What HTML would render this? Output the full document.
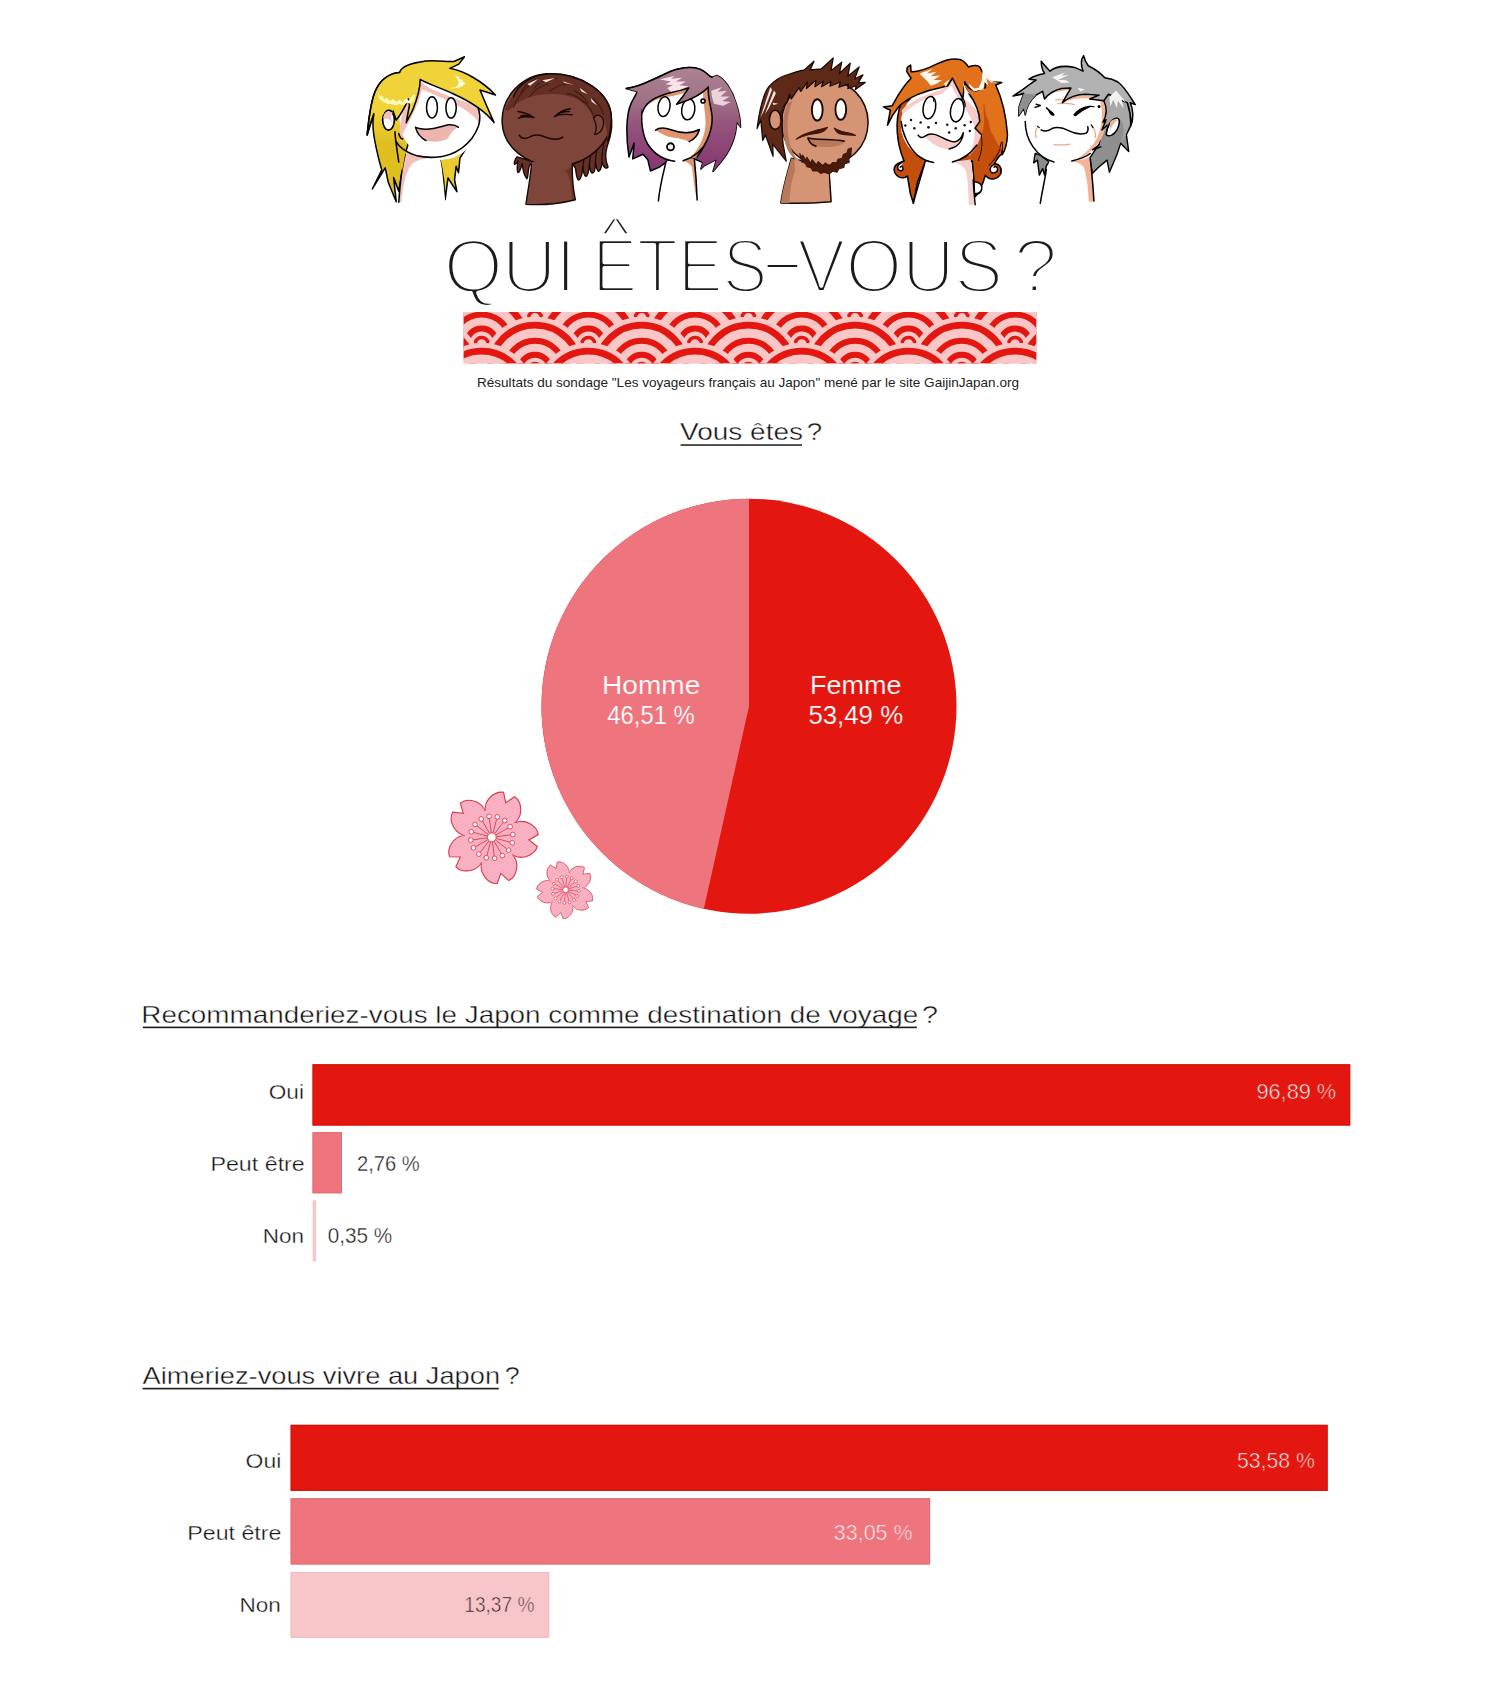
<!DOCTYPE html>
<html lang="fr">
<head>
<meta charset="utf-8">
<title>Qui êtes-vous ?</title>
<style>
html,body{margin:0;padding:0;background:#fff;}
body{width:1500px;overflow:hidden;}
svg{display:block;}
svg text{font-family:'Liberation Sans', Arial, sans-serif;}
</style>
</head>
<body>
<svg width="1500" height="1701" viewBox="0 0 1500 1701">
<rect width="1500" height="1701" fill="#fff"/>
<!-- faces -->
<g transform="translate(360 50) scale(0.09409)" stroke-linejoin="round" stroke-linecap="round">
<defs><linearGradient id="f1g" gradientUnits="userSpaceOnUse" x1="0" y1="640" x2="0" y2="1000"><stop offset="0" stop-color="#F0D338"/><stop offset="1" stop-color="#E0BE20"/></linearGradient></defs>
<!-- back hair right -->
<path d="M840 1120 L870 1260 L890 1400 L905 1590 L935 1360 L1030 1505 L1005 1380 L1022 1235 L1047 1305 L1062 1150 L1135 1035 Z" fill="#EBCB2E" stroke="#000" stroke-width="16.2"/>
<!-- back hair left -->
<path d="M420 240 C330 245 230 300 170 420 C120 520 95 700 76 903 L110 790 L148 679 C120 800 150 960 206 1185 L232 1275 L131 1477 L268 1253 L300 1405 L385 1612 L357 1356 L412 1500 L447 1288 L481 1102 L600 700 Z" fill="url(#f1g)" stroke="#000" stroke-width="16.2"/>
<!-- neck -->
<path d="M481 1102 C445 1250 425 1420 412 1618 L905 1600 L870 1260 L845 1120 Z" fill="#fff"/>
<path d="M481 1102 C445 1250 425 1420 412 1618 L440 1618 C455 1440 490 1290 550 1215 C610 1160 700 1150 770 1142 L600 1110 Z" fill="#F2C1BC"/>
<path d="M481 1102 C445 1250 425 1420 412 1618" fill="none" stroke="#000" stroke-width="16.2"/>
<!-- hair behind jaw -->
<path d="M378 960 L412 1191 L447 1288 L481 1102 L520 1100 L420 1000 Z" fill="#E0BE20"/>
<!-- head -->
<circle cx="848" cy="742" r="428" fill="#fff"/>
<path d="M640 320 C700 420 900 470 1250 600 C1275 660 1285 720 1275 790 C1200 640 900 520 660 420 C640 520 560 700 470 860 C450 900 440 940 450 990 C400 900 420 700 520 500 Z" fill="#F2C1BC"/>
<path d="M412 889 C425 930 440 950 454 944 M378 965 C420 1040 480 1085 605 1125 C660 1138 740 1143 800 1140 C1000 1130 1190 1010 1262 800 C1280 730 1275 660 1250 600" fill="none" stroke="#000" stroke-width="16.2"/>
<!-- ear -->
<ellipse cx="303" cy="745" rx="62" ry="106" fill="#fff" stroke="#000" stroke-width="17.6"/>
<path d="M248 720 C255 655 300 640 350 668 C320 690 330 760 360 800 C330 760 300 700 270 740 Z" fill="#F2C1BC"/>
<!-- strand below ear -->
<path d="M371 868 C380 1000 400 1100 412 1191" fill="none" stroke="#000" stroke-width="16.2"/>
<!-- eyes -->
<ellipse cx="765" cy="610" rx="58" ry="112" fill="#fff" stroke="#000" stroke-width="16.2"/>
<ellipse cx="968" cy="615" rx="55" ry="108" fill="#fff" stroke="#000" stroke-width="16.2"/>
<!-- mouth -->
<path d="M590 822 C700 870 830 820 940 795 C980 790 1020 800 1045 820 C1000 840 960 880 935 940 C860 980 760 985 700 960 C650 930 610 880 590 822 Z" fill="#EDB5AF"/>
<path d="M590 822 C700 870 830 820 940 795 C980 790 1020 800 1045 820 M590 822 C605 880 650 935 700 962" fill="none" stroke="#000" stroke-width="16.2"/>
<!-- top hair / bangs fill -->
<path d="M420 240 C440 170 540 140 700 118 C820 102 950 135 1005 120 L1110 72 L1050 150 L955 195 C1110 225 1300 330 1440 478 L1275 425 L1340 580 L1425 772 C1340 660 1200 560 1000 470 C850 400 720 360 640 312 C640 430 600 540 560 640 L491 772 L525 590 L515 520 C480 600 440 680 385 745 L352 650 C320 615 265 625 245 690 L150 690 C140 500 200 340 290 270 C330 250 380 245 420 240 Z" fill="#F0D338"/>
<path d="M420 240 C440 170 540 140 700 118 C820 102 950 135 1005 120 L1110 72 L1050 150 L955 195 C1110 225 1300 330 1440 478 L1275 425 L1340 580 L1425 772 C1340 660 1200 560 1000 470 C850 400 720 360 640 312 C640 430 600 540 560 640 L491 772 L525 590 L515 520 C480 600 440 680 385 745 L352 650" fill="none" stroke="#000" stroke-width="16.2"/>
<path d="M420 240 C330 245 230 300 170 420 C120 520 95 700 76 903 L110 790 L148 679" fill="none" stroke="#000" stroke-width="16.2"/>
<!-- highlights -->
<path d="M1010 275 L1060 290 L1045 305 L1100 320 L1085 340 L1120 350 L1090 385 L1040 400 L950 415 L1000 395 L1010 405 L1035 380 L1050 350 L1040 320 Z" fill="#FFFDE0"/>
<path d="M185 430 L215 500 L230 480 L260 530 L280 505 L320 545 L345 520 L390 550 L420 525 L450 555 L490 510 L520 540 L560 480 L590 470 L575 540 L540 570 L500 560 L470 585 L420 575 L380 590 L330 575 L290 570 L240 545 L205 520 Z" fill="#FFF9B8"/>
</g>
<g transform="translate(490 70) scale(0.09333)" stroke-linejoin="round" stroke-linecap="round">
<!-- back dreads left -->
<path d="M290 930 C265 960 255 1000 262 1010 C275 1015 290 990 300 975 C290 1030 290 1080 300 1100 C320 1100 335 1040 345 1000 C350 1060 370 1130 395 1165 C410 1150 405 1080 420 1030 L460 980 Z" fill="#643025" stroke="#1a0806" stroke-width="14.9"/>
<!-- dreads right -->
<path d="M1120 620 C1200 640 1290 560 1290 460 C1320 560 1300 700 1255 820 C1230 900 1240 980 1265 1040 C1240 1070 1215 1040 1200 990 C1195 1040 1185 1080 1165 1085 C1140 1075 1140 1030 1130 990 C1130 1060 1120 1100 1095 1105 C1070 1095 1070 1050 1065 1010 C1060 1080 1050 1130 1030 1140 C1005 1135 1000 1080 995 1040 C990 1110 975 1170 950 1180 C925 1170 925 1100 915 1050 L880 1000 Z" fill="#643025" stroke="#1a0806" stroke-width="14.9"/>
<path d="M1200 990 C1195 900 1215 800 1235 720 M1130 990 C1130 900 1150 800 1180 700 M1065 1010 C1070 930 1090 850 1120 780 M995 1040 C1000 980 1010 930 1030 880" fill="none" stroke="#1a0806" stroke-width="12.2"/>
<!-- head -->
<path d="M130 560 C120 300 330 45 640 40 C960 35 1300 230 1300 520 C1300 800 1020 1030 700 1030 C400 1030 140 830 130 560 Z" fill="#7E463A"/>
<path d="M130 560 C120 300 330 45 640 40 C960 35 1300 230 1300 520 C1300 800 1020 1030 700 1030 C400 1030 140 830 130 560 Z" fill="none" stroke="#1a0806" stroke-width="16.2"/>
<!-- neck -->
<path d="M447 985 C432 1180 400 1320 385 1440 C560 1450 760 1430 915 1390 C890 1280 880 1160 880 985 Z" fill="#7E463A"/>
<path d="M790 1080 C850 1100 870 1200 880 1400 L915 1390 C890 1280 880 1160 885 1020 C860 1050 830 1070 790 1080 Z" fill="#6A3427"/>
<path d="M444 1015 C430 1180 400 1320 385 1440 C560 1450 760 1430 915 1390 C890 1280 880 1160 880 1010" fill="none" stroke="#1a0806" stroke-width="14.9"/>
<!-- hair cap -->
<path d="M160 430 C180 360 230 290 250 290 C300 150 450 50 640 40 C960 35 1300 230 1300 520 C1300 600 1290 680 1260 760 C1250 650 1240 560 1200 480 C1160 480 1120 500 1110 520 C1080 430 1010 350 930 310 C800 250 600 240 460 280 C340 315 250 370 200 440 C185 430 170 428 160 430 Z" fill="#643025"/>
<path d="M250 290 C300 150 450 50 640 40 C960 35 1300 230 1300 520 C1300 600 1290 680 1260 760" fill="none" stroke="#1a0806" stroke-width="16.2"/>
<path d="M330 250 C360 170 440 110 520 90 M250 400 C290 300 350 220 420 170 M470 200 C520 130 620 90 720 85 M420 290 C470 220 540 170 620 150 M640 230 C700 180 760 150 840 150 M900 220 C960 250 1020 300 1050 360 M820 250 C900 260 960 300 1010 350 M1000 330 C1060 380 1090 430 1110 500 M1100 300 C1160 350 1200 420 1215 480" fill="none" stroke="#3E1A12" stroke-width="11"/>
<!-- highlights -->
<path d="M400 150 L520 95 L430 170 Z M560 110 L700 85 L600 130 Z M780 120 L900 160 L800 140 Z M960 190 L1050 260 L980 230 Z M1080 300 L1150 380 L1090 340 Z" fill="#F4E3DC"/>
<!-- ear -->
<path d="M1110 520 C1130 470 1200 470 1215 540 C1225 620 1180 690 1120 690 C1150 640 1140 570 1110 520 Z" fill="#7E463A" stroke="#1a0806" stroke-width="13.5"/>
<!-- eyes -->
<path d="M300 445 C360 455 420 475 470 510 C410 495 350 500 305 515 M330 490 C380 485 430 490 470 510" fill="none" stroke="#1a0806" stroke-width="14.9"/>
<path d="M860 415 C800 425 740 450 690 500 C740 470 800 470 880 480 M690 500 C730 460 800 440 850 445" fill="none" stroke="#1a0806" stroke-width="14.9"/>
<!-- mouth -->
<path d="M315 700 C340 740 380 740 420 720 C470 690 520 690 570 710 C640 740 720 760 780 720" fill="none" stroke="#1a0806" stroke-width="16.2"/>
</g>
<g transform="translate(615 60) scale(0.09333)" stroke-linejoin="round" stroke-linecap="round">
<defs><linearGradient id="f3h" gradientUnits="userSpaceOnUse" x1="0" y1="90" x2="0" y2="1150"><stop offset="0" stop-color="#AB8292"/><stop offset="0.3" stop-color="#A17387"/><stop offset="0.6" stop-color="#93527C"/><stop offset="1" stop-color="#873871"/></linearGradient></defs>
<!-- back hair -->
<path d="M120 305 C250 290 400 215 600 120 C700 85 820 70 900 95 C950 110 990 150 1010 170 L1040 185 L1090 165 C1180 200 1260 330 1300 470 C1330 560 1345 650 1345 720 L1305 660 C1300 800 1250 960 1130 1100 L1050 1195 L1088 1065 L960 1130 L920 1168 L940 1100 L850 1060 L560 1090 L470 1150 L380 1190 L352 1070 L300 1010 L190 1060 L205 890 L150 1040 C120 850 110 600 175 460 L240 340 Z" fill="url(#f3h)" stroke="#000" stroke-width="16.2"/>
<!-- neck -->
<path d="M548 1085 C520 1200 480 1350 465 1510 L880 1500 C875 1350 865 1200 850 1060 Z" fill="#fff"/>
<path d="M735 1080 L850 1055 C865 1200 875 1350 880 1500 C850 1400 840 1250 825 1150 C800 1110 770 1090 735 1080 Z" fill="#E1956F"/>
<path d="M548 1085 C520 1200 480 1350 465 1510 M850 1060 C865 1200 875 1350 880 1500" fill="none" stroke="#000" stroke-width="16.2"/>
<!-- face -->
<path d="M300 480 C270 620 290 800 350 900 C420 1010 520 1070 640 1085 L730 1080 C830 1050 930 980 1000 850 C1050 750 1060 620 1030 500 L1000 290 L700 300 Z" fill="#fff"/>
<!-- tan shadow right of face -->
<path d="M1000 290 C990 400 1030 500 1040 600 C1050 750 980 900 880 1040 L760 1075 C880 1000 975 830 970 650 C965 520 930 400 950 300 Z" fill="#E1956F"/>
<!-- shadow under bangs -->
<path d="M310 520 C380 440 480 400 620 385 L760 350 L690 470 L900 380 L1000 290 L700 300 L350 420 Z" fill="#E1956F"/>
<!-- chin outline -->
<path d="M300 500 C270 620 290 800 350 900 C420 1010 520 1070 640 1085 M730 1080 C830 1050 930 980 1000 850" fill="none" stroke="#000" stroke-width="16.2"/>
<!-- eyes -->
<ellipse cx="525" cy="500" rx="64" ry="106" transform="rotate(8 525 500)" fill="#fff" stroke="#000" stroke-width="16.2"/>
<ellipse cx="785" cy="530" rx="70" ry="112" transform="rotate(8 785 530)" fill="#fff" stroke="#000" stroke-width="16.2"/>
<!-- mouth -->
<path d="M435 752 C470 725 520 720 600 748 C700 785 800 800 905 745 C890 800 850 850 795 875 C700 830 600 840 540 810 C500 790 470 770 435 752 Z" fill="#E1956F"/>
<path d="M435 752 C470 725 520 720 600 748 C700 785 800 800 905 745 C890 800 850 850 795 875" fill="none" stroke="#000" stroke-width="16.2"/>
<!-- piercings -->
<circle cx="595" cy="930" r="38" fill="#eee" stroke="#000" stroke-width="18.9"/>
<circle cx="943" cy="440" r="22" fill="#ddd" stroke="#000" stroke-width="16.2"/>
<!-- right hair lock (front) -->
<path d="M1010 170 L1040 185 L1090 165 C1180 200 1260 330 1300 470 C1330 560 1345 650 1345 720 L1305 660 C1300 800 1250 960 1130 1100 L1050 1195 L1088 1065 L960 1130 L920 1168 L940 1100 L880 1040 C980 900 1050 750 1040 600 C1030 500 990 400 1000 290 Z" fill="url(#f3h)"/>
<path d="M880 1040 C980 900 1050 750 1040 600 C1030 500 990 400 1000 290" fill="none" stroke="#000" stroke-width="16.2"/>
<!-- bangs front -->
<path d="M120 305 C250 290 400 215 600 120 C700 85 820 70 900 95 C950 110 990 150 1010 170 L1000 290 C930 370 800 430 660 475 L720 400 L790 300 C650 340 480 360 380 440 C340 470 310 510 295 560 C290 500 250 430 240 340 Z" fill="url(#f3h)"/>
<path d="M1000 290 C930 370 800 430 660 475 L720 400 L790 300 C650 340 480 360 380 440 C340 470 310 510 295 560 M120 305 C250 290 400 215 600 120 C700 85 820 70 900 95 C950 110 990 150 1010 170 L1040 185" fill="none" stroke="#000" stroke-width="16.2"/>
<!-- highlights -->
<path d="M480 210 L640 170 L600 200 L720 190 L650 230 L760 230 L690 270 L790 280 L700 320 L600 340 L560 300 L620 270 L540 260 L600 230 Z" fill="#F6E4EA"/>
<path d="M1030 330 L1150 290 L1100 340 L1200 330 L1130 390 L1230 390 L1150 440 L1240 450 L1160 490 L1060 470 L1040 400 Z" fill="#F3DCE4" opacity="0.9"/>
</g>
<g transform="translate(750 50) scale(0.09409)" stroke-linejoin="round" stroke-linecap="round">
<!-- neck -->
<path d="M440 1150 C400 1300 350 1450 328 1625 C500 1632 700 1625 862 1612 C855 1500 850 1400 835 1250 Z" fill="#D59574" stroke="#1a0a05" stroke-width="16.2"/>
<path d="M440 1150 C400 1300 350 1450 328 1625 L420 1628 C425 1500 440 1380 480 1280 C500 1240 530 1210 560 1200 Z" fill="#B9785B"/>
<!-- head -->
<circle cx="795" cy="770" r="460" fill="#D59574" stroke="#1a0a05" stroke-width="16.2"/>
<!-- cover neck junction -->
<path d="M470 1110 C520 1190 600 1240 700 1260 L835 1285 L840 1400 L480 1300 Z" fill="#D59574"/>
<!-- face left shadow -->
<path d="M400 560 C340 700 330 900 400 1060 C430 1120 480 1170 520 1190 C440 1100 400 950 400 800 C400 700 420 620 450 540 Z" fill="#B9785B"/>
<!-- hair -->
<path d="M420 255 C330 280 250 330 200 390 C140 470 100 640 75 835 L115 745 L135 960 L165 905 L245 1130 L242 1000 L385 1182 L352 1000 C340 900 335 820 345 740 C330 700 320 660 345 640 C350 600 370 570 395 555 L420 470 L440 520 L520 400 L540 440 L610 340 L600 410 L700 320 L690 390 L780 330 L760 390 L860 335 L850 385 L960 340 L945 395 L1050 360 L1040 410 L1130 380 L1120 420 L1225 345 L1150 350 L1200 265 L1110 310 L1160 180 L1040 280 L1065 140 L950 250 L975 130 L860 220 L885 85 L760 200 L640 210 L680 120 L580 210 C520 220 470 235 420 255 Z" fill="#5F2917" stroke="#1a0a05" stroke-width="13.5"/>
<!-- hair highlights -->
<path d="M215 395 L110 720 L150 640 L235 420 Z M255 430 L160 680 L200 620 L275 460 Z M240 560 L300 570 L250 585 Z" fill="#F3E6E0"/>
<!-- ear -->
<ellipse cx="268" cy="742" rx="62" ry="102" fill="#D59574" stroke="#1a0a05" stroke-width="17.6"/>
<path d="M300 700 C330 740 330 800 300 830 C320 790 320 740 300 700 Z" fill="#B9785B"/>
<!-- eyes -->
<ellipse cx="715" cy="637" rx="57" ry="113" fill="#fff" stroke="#1a0a05" stroke-width="20.2"/>
<ellipse cx="965" cy="632" rx="57" ry="110" fill="#fff" stroke="#1a0a05" stroke-width="20.2"/>
<!-- mustache -->
<path d="M490 948 C540 905 600 880 680 860 C730 845 780 835 825 822 C800 860 760 880 720 885 C650 890 560 915 490 948 Z M895 830 C930 850 980 870 1040 880 C1070 885 1100 895 1122 908 C1060 905 1000 905 950 890 C920 875 905 855 895 830 Z" fill="#3E1609" stroke="#3E1609" stroke-width="10.8"/>
<!-- mouth -->
<path d="M630 945 C720 958 880 950 1000 968 C1000 1000 960 1020 880 1028 C800 1034 740 1030 700 1020 C660 1000 640 975 630 945 Z" fill="#B9785B"/>
<path d="M615 935 C720 958 880 945 1000 968 M615 935 C630 985 660 1010 700 1022" fill="none" stroke="#1a0a05" stroke-width="17.6"/>
<!-- beard -->
<path d="M528 1100 L560 1150 L560 1115 L595 1175 L605 1140 L645 1200 L660 1165 L705 1220 L725 1185 L775 1232 L800 1200 L850 1235 L875 1195 L920 1198 L935 1160 L980 1150 L992 1110 L1030 1095 L1042 1055 L1078 1040 L1072 1110 L1050 1150 L1055 1195 L1005 1210 L998 1250 L945 1262 L925 1300 L875 1290 L842 1318 L792 1300 L750 1312 L718 1285 L668 1285 L648 1252 L606 1242 L588 1205 L552 1190 Z" fill="#4A1B0B" stroke="#3E1609" stroke-width="10.8"/>
</g>
<g transform="translate(880 50) scale(0.09409)" stroke-linejoin="round" stroke-linecap="round">
<!-- back hair (dark) -->

<path d="M225 560 C150 760 180 1000 255 1180 C215 1195 150 1210 150 1270 C155 1340 230 1385 292 1340 L305 1420 L322 1525 L355 1628 L400 1400 L480 1190 L980 1180 L1000 1400 L1010 1560 C1050 1520 1075 1470 1082 1440 C1100 1400 1110 1360 1120 1330 C1160 1390 1250 1385 1285 1310 C1300 1250 1260 1200 1215 1215 C1240 1150 1290 1100 1300 1110 L1310 900 L1200 600 L700 400 Z" fill="#C44E0C" stroke="#000" stroke-width="16.2"/>
<!-- curls inner -->
<path d="M255 1180 C225 1200 185 1215 188 1250 C192 1290 240 1295 245 1260 C246 1240 225 1232 215 1245" fill="#fff" stroke="#000" stroke-width="14.9"/>
<path d="M1215 1215 C1180 1230 1160 1260 1175 1290 C1195 1320 1250 1305 1250 1265 C1248 1240 1225 1232 1212 1245" fill="#fff" stroke="#000" stroke-width="14.9"/>
<!-- neck -->
<path d="M480 1185 C450 1300 400 1450 355 1628 L1012 1645 C1000 1500 990 1350 962 1175 Z" fill="#fff"/>
<path d="M770 1190 C830 1185 900 1175 962 1165 C990 1350 1000 1500 1012 1645 L945 1645 C940 1500 935 1380 915 1290 C890 1230 830 1200 770 1190 Z" fill="#F6CDCB"/>
<path d="M480 1185 C450 1300 400 1450 355 1628" fill="none" stroke="#000" stroke-width="16.2"/>
<path d="M480 1185 L440 1400 L420 1500 L460 1300 Z" fill="#F6CDCB"/>
<path d="M990 1380 C995 1500 1005 1580 1012 1645 M1005 1400 C1060 1400 1090 1440 1082 1480 C1070 1520 1040 1535 1010 1530" fill="none" stroke="#000" stroke-width="14.9"/>
<path d="M1008 1410 C1055 1412 1080 1445 1072 1478 C1062 1508 1040 1520 1012 1518 Z" fill="#fff"/>
<!-- face -->
<ellipse cx="655" cy="790" rx="435" ry="410" fill="#fff"/>
<!-- face shadows -->
<path d="M230 640 C330 540 480 470 640 430 L770 310 L860 500 C940 540 1030 640 1080 700 C1100 800 1080 900 1040 1000 C1020 1050 980 1100 940 1130 C1000 1000 1020 900 1000 800 C960 700 900 600 830 520 L760 380 L650 470 C500 500 350 570 240 690 Z" fill="#F6CDCB"/>
<path d="M225 760 C235 880 300 1030 400 1120 C450 1160 510 1185 570 1195 M770 1190 C860 1170 960 1110 1030 1010" fill="none" stroke="#000" stroke-width="16.2"/>
<!-- eyes -->
<ellipse cx="525" cy="612" rx="66" ry="120" transform="rotate(10 525 612)" fill="#fff" stroke="#000" stroke-width="16.2"/>
<ellipse cx="820" cy="640" rx="70" ry="125" transform="rotate(10 820 640)" fill="#fff" stroke="#000" stroke-width="16.2"/>
<path d="M555 500 C570 510 575 530 570 545 M875 510 C895 530 905 560 905 600 M860 520 C880 540 885 560 885 580" fill="none" stroke="#000" stroke-width="12.2"/>
<!-- freckles -->
<g fill="#111"><circle cx="330" cy="745" r="13"/><circle cx="270" cy="802" r="13"/><circle cx="365" cy="832" r="13"/><circle cx="432" cy="770" r="13"/><circle cx="515" cy="822" r="14"/><circle cx="595" cy="775" r="13"/><circle cx="715" cy="795" r="13"/><circle cx="735" cy="877" r="13"/><circle cx="805" cy="832" r="13"/><circle cx="900" cy="800" r="13"/><circle cx="965" cy="765" r="13"/><circle cx="955" cy="860" r="13"/></g>
<!-- mouth -->
<path d="M470 915 C520 885 580 890 640 920 C700 950 760 985 800 975 C840 965 870 930 885 880 C880 960 830 1030 735 1052 C650 1060 560 1010 470 915 Z" fill="#F6CDCB"/>
<path d="M405 905 C420 935 450 935 480 915 C520 885 580 890 640 920 C700 950 760 985 800 975 C840 965 870 930 885 880 C880 960 830 1030 735 1052" fill="none" stroke="#000" stroke-width="16.2"/>
<!-- right front hair -->
<path d="M940 180 C1000 160 1040 160 1060 180 C1100 230 1150 310 1200 340 L1295 345 L1230 372 C1290 500 1340 700 1355 900 C1350 1000 1320 1080 1300 1110 L1295 980 C1270 1080 1220 1160 1160 1220 L1050 1170 C1080 1100 1100 1000 1080 900 L1010 830 L1060 760 C1060 680 1020 560 950 470 L870 350 Z" fill="#E2711B"/>
<path d="M1160 1220 C1220 1160 1270 1080 1295 980 L1300 1110 C1320 1080 1350 1000 1355 900 C1340 700 1290 500 1230 372 L1295 345 L1200 340 M1050 1170 C1080 1100 1100 1000 1080 900 L1010 830 L1060 760 C1060 680 1020 560 950 470 L870 350" fill="none" stroke="#000" stroke-width="16.2"/>
<path d="M1100 560 C1130 620 1110 680 1150 740 C1170 800 1160 860 1200 900 C1230 960 1250 1000 1300 1080 L1295 980 C1270 1080 1220 1160 1160 1220 L1050 1170 C1080 1100 1100 1000 1080 900 C1120 820 1100 700 1100 560 Z" fill="#C44E0C"/>
<!-- bangs / top hair -->
<path d="M35 605 L130 592 C180 500 230 400 330 300 L285 230 L290 185 L325 160 L330 230 C400 235 500 200 600 150 C680 110 780 85 850 100 C890 110 920 150 940 180 C1000 160 1040 160 1060 180 C1100 250 1130 330 1120 400 L1010 440 L940 400 L900 340 L880 520 L840 440 L770 300 L720 380 L640 400 C480 430 300 500 200 600 L130 700 L80 800 L110 640 Z" fill="#E2711B" stroke="#000" stroke-width="16.2"/>
<!-- highlights -->
<path d="M420 250 L560 200 L500 250 L600 230 L540 280 L640 270 L570 320 L660 320 L600 360 L540 380 L500 330 L470 300 Z" fill="#FFF6EE"/>
<path d="M1090 215 L1180 330 L1270 350 L1180 345 L1130 300 L1150 380 L1110 340 L1100 420 L1040 430 L1000 440 L960 400 L940 350 L1000 410 L1050 400 L1080 330 Z" fill="#FFF6EE"/>
<path d="M680 360 L740 310 L700 390 Z M880 340 L920 420 L960 470 L900 440 Z" fill="#FFF6EE"/>
</g>
<g transform="translate(1005 50) scale(0.09409)" stroke-linejoin="round" stroke-linecap="round">
<!-- back hair left tuft -->
<path d="M320 1100 L305 1200 L345 1170 L365 1330 L400 1260 L420 1330 L440 1230 L470 1190 L380 1120 Z" fill="#8A8A8A" stroke="#000" stroke-width="14.9"/>
<!-- back hair right -->
<path d="M1100 500 C1250 520 1350 700 1340 800 L1290 900 L1315 1080 L1230 990 L1190 1110 L1110 1300 L1085 1170 L1000 1240 L930 1310 L900 1150 L1000 1000 Z" fill="#8F8F8F" stroke="#000" stroke-width="14.9"/>
<!-- neck -->
<path d="M470 1185 C440 1300 400 1450 375 1630 L945 1610 C930 1450 915 1300 895 1150 Z" fill="#fff"/>
<path d="M710 1180 C780 1175 850 1160 905 1140 C925 1300 935 1450 945 1610 L890 1612 C885 1480 870 1350 840 1250 C810 1210 770 1190 710 1180 Z" fill="#F3B394"/>
<path d="M440 1270 C420 1400 395 1500 375 1630 M905 1150 C925 1300 935 1450 945 1605" fill="none" stroke="#000" stroke-width="16.2"/>
<!-- face -->
<path d="M215 760 C215 950 330 1140 520 1190 L710 1180 C860 1150 980 1050 1040 900 C1080 780 1090 650 1050 540 L800 400 L400 440 C280 520 215 640 215 760 Z" fill="#fff"/>
<!-- shadows -->
<path d="M400 450 C500 420 620 400 700 410 L620 540 C700 480 820 470 960 490 L1080 530 C1100 650 1090 800 1040 900 C990 1030 880 1130 710 1180 C850 1120 960 1010 1000 880 C1040 760 1040 640 1010 540 C900 500 760 500 600 560 L680 430 C580 430 480 450 420 520 Z" fill="#F3B394"/>
<path d="M215 760 C215 950 330 1140 520 1190 M710 1180 C800 1160 870 1130 905 1100" fill="none" stroke="#000" stroke-width="16.2"/>
<!-- wrinkles -->
<path d="M345 820 C325 850 320 890 330 930 M920 800 C950 830 965 880 960 930 M520 1005 C570 1012 630 1010 690 1000 M540 530 C580 525 620 528 650 535 M560 570 C620 565 700 570 740 580" fill="none" stroke="#F0A98A" stroke-width="13.5"/>
<!-- eyes -->
<path d="M330 575 L375 590 L320 610 M440 615 C470 640 490 660 500 680" fill="none" stroke="#000" stroke-width="14.9"/>
<path d="M465 640 C485 650 515 670 520 690 C500 700 480 680 465 640 Z" fill="#000" stroke="#000" stroke-width="13.5"/>
<path d="M735 690 C760 650 820 610 900 600 C840 625 790 660 750 695 Z" fill="#000" stroke="#000" stroke-width="16.2"/>
<path d="M900 600 C920 598 935 600 945 603" fill="none" stroke="#000" stroke-width="13.5"/>
<circle cx="1000" cy="600" r="16" fill="#000"/>
<!-- mouth -->
<path d="M385 850 C420 870 460 860 500 835 C560 810 620 830 680 860 C740 890 800 900 860 885 C885 870 885 840 880 815" fill="none" stroke="#000" stroke-width="16.2"/>
<path d="M345 810 C355 815 360 820 365 825 M915 795 C925 805 930 815 935 825" fill="none" stroke="#000" stroke-width="12.2"/>
<!-- ear -->
<path d="M1075 900 C1080 820 1130 730 1190 720 C1230 730 1215 800 1190 850 C1160 900 1110 930 1075 900 Z" fill="#fff" stroke="#000" stroke-width="16.2"/>
<path d="M1120 760 C1150 730 1185 730 1200 745 C1170 760 1140 800 1120 850 C1110 820 1110 790 1120 760 Z" fill="#F3B394"/>
<!-- sideburn lock -->
<path d="M1050 540 C1090 620 1080 700 1040 770 L1075 740 L1030 850 L1085 800 C1120 740 1150 720 1190 715 C1260 740 1290 850 1230 990 C1330 850 1350 700 1300 560 L1100 470 Z" fill="#A8A8A8"/>
<path d="M1050 540 C1090 620 1080 700 1040 770 L1075 740 L1030 850 L1085 800 M1000 1010 L930 1060 L1020 1030" fill="none" stroke="#000" stroke-width="14.9"/>
<!-- top hair -->
<path d="M85 490 C140 480 180 470 200 460 L150 600 L145 700 L200 620 L215 690 C230 600 280 520 330 480 L400 440 L420 520 C460 470 520 430 600 410 L700 405 L610 560 C680 500 760 470 860 470 L1000 480 L900 520 L1050 540 L1100 470 L1300 560 C1330 650 1340 750 1340 800 C1370 720 1360 620 1330 560 L1385 580 C1330 500 1280 400 1200 340 C1150 310 1100 300 1060 295 C1000 230 940 195 885 168 C862 135 845 100 835 60 C806 100 805 160 830 225 L740 185 C640 165 540 172 478 225 C450 195 415 160 385 120 C385 170 398 215 420 250 C360 260 300 280 255 310 L330 320 C250 370 180 430 85 490 Z" fill="#B1B1B1" stroke="#000" stroke-width="16.2"/>
<!-- hair dark shading -->
<path d="M200 460 L150 600 L145 700 L200 620 L215 690 C230 600 280 520 330 480 L300 470 Z" fill="#8F8F8F"/>
<!-- highlights -->
<path d="M500 290 L640 240 L600 275 L680 265 L560 320 L640 320 L690 345 L600 350 Z M770 400 L850 420 L800 440 Z" fill="#F4F4F4"/>
<path d="M1180 430 L1290 560 L1240 530 L1260 620 L1200 540 L1190 620 L1150 530 L1120 600 L1110 500 Z" fill="#F1F1F1"/>
</g>
<!-- band -->
<defs><clipPath id="bandclip"><rect x="463.7" y="312" width="572.5" height="51.3"/></clipPath><g id="wave"><circle r="53.3" fill="#F9C7C6"/><circle r="44.95" fill="none" stroke="#E3170F" stroke-width="6.7"/><circle r="29.3" fill="none" stroke="#E3170F" stroke-width="6"/><circle r="15.3" fill="none" stroke="#E3170F" stroke-width="6"/><circle r="6.45" fill="none" stroke="#E3170F" stroke-width="3.5"/></g></defs><g clip-path="url(#bandclip)"><rect x="463.7" y="312" width="572.5" height="51.3" fill="#F9C7C6"/><use href="#wave" x="481.65" y="239.5"/><use href="#wave" x="588.35" y="239.5"/><use href="#wave" x="695.05" y="239.5"/><use href="#wave" x="801.75" y="239.5"/><use href="#wave" x="908.45" y="239.5"/><use href="#wave" x="1015.15" y="239.5"/><use href="#wave" x="428.3" y="265.6"/><use href="#wave" x="535" y="265.6"/><use href="#wave" x="641.7" y="265.6"/><use href="#wave" x="748.4" y="265.6"/><use href="#wave" x="855.1" y="265.6"/><use href="#wave" x="961.8" y="265.6"/><use href="#wave" x="1068.5" y="265.6"/><use href="#wave" x="481.65" y="291.7"/><use href="#wave" x="588.35" y="291.7"/><use href="#wave" x="695.05" y="291.7"/><use href="#wave" x="801.75" y="291.7"/><use href="#wave" x="908.45" y="291.7"/><use href="#wave" x="1015.15" y="291.7"/><use href="#wave" x="428.3" y="317.8"/><use href="#wave" x="535" y="317.8"/><use href="#wave" x="641.7" y="317.8"/><use href="#wave" x="748.4" y="317.8"/><use href="#wave" x="855.1" y="317.8"/><use href="#wave" x="961.8" y="317.8"/><use href="#wave" x="1068.5" y="317.8"/><use href="#wave" x="481.65" y="343.9"/><use href="#wave" x="588.35" y="343.9"/><use href="#wave" x="695.05" y="343.9"/><use href="#wave" x="801.75" y="343.9"/><use href="#wave" x="908.45" y="343.9"/><use href="#wave" x="1015.15" y="343.9"/><use href="#wave" x="428.3" y="370"/><use href="#wave" x="535" y="370"/><use href="#wave" x="641.7" y="370"/><use href="#wave" x="748.4" y="370"/><use href="#wave" x="855.1" y="370"/><use href="#wave" x="961.8" y="370"/><use href="#wave" x="1068.5" y="370"/><use href="#wave" x="481.65" y="396.1"/><use href="#wave" x="588.35" y="396.1"/><use href="#wave" x="695.05" y="396.1"/><use href="#wave" x="801.75" y="396.1"/><use href="#wave" x="908.45" y="396.1"/><use href="#wave" x="1015.15" y="396.1"/></g>
<!-- pie -->
<circle cx="749" cy="706.2" r="207.5" fill="#E3170F"/><path d="M749 706.2L749 498.7A207.5 207.5 0 0 0 703.86 908.73Z" fill="#EE757E"/>
<!-- flowers -->
<defs><pattern id="stripe" width="3" height="3" patternUnits="userSpaceOnUse" patternTransform="rotate(-30)"><rect width="3" height="3" fill="#F9B6C6"/><rect width="3" height="1.3" fill="#F8A9BD"/></pattern></defs><g transform="translate(491.8 837.3)"><path d="M0 0L25.06 -15.03C32.95 -17.97 45.14 -12.23 46.43 -2.72L37.11 2.59L45.6 9.16C43 18.39 30.13 22.38 22.72 18.37Z" fill="url(#stripe)" stroke="#D9394A" stroke-width="1.12"/><path d="M0 0L22.04 19.19C27.28 25.79 25.58 39.15 16.93 43.32L9 36.1L5.38 46.2C-4.2 46.58 -11.98 35.57 -10.45 27.29Z" fill="url(#stripe)" stroke="#D9394A" stroke-width="1.12"/><path d="M0 0L-11.44 26.89C-16.1 33.91 -29.33 36.42 -35.96 29.49L-31.55 19.71L-42.27 19.4C-45.59 10.4 -37.53 -0.4 -29.18 -1.51Z" fill="url(#stripe)" stroke="#D9394A" stroke-width="1.12"/><path d="M0 0L-29.11 -2.57C-37.22 -4.83 -43.7 -16.64 -39.16 -25.09L-28.5 -23.91L-31.51 -34.21C-23.98 -40.15 -11.22 -35.82 -7.58 -28.22Z" fill="url(#stripe)" stroke="#D9394A" stroke-width="1.12"/><path d="M0 0L-6.55 -28.47C-6.91 -36.89 2.32 -46.71 11.76 -45L13.94 -34.49L22.8 -40.54C30.78 -35.21 30.6 -21.74 24.49 -15.93Z" fill="url(#stripe)" stroke="#D9394A" stroke-width="1.12"/><circle r="26.97" fill="url(#stripe)"/><path d="M0 0L23.55 -14.13C30.98 -16.89 42.43 -11.49 43.64 -2.56L34.88 2.44L42.86 8.61C40.42 17.29 28.32 21.04 21.36 17.27Z" fill="url(#stripe)"/><path d="M0 0L20.71 18.04C25.64 24.24 24.04 36.8 15.92 40.72L8.46 33.93L5.06 43.43C-3.95 43.78 -11.26 33.44 -9.82 25.65Z" fill="url(#stripe)"/><path d="M0 0L-10.75 25.27C-15.13 31.88 -27.57 34.24 -33.81 27.72L-29.65 18.53L-39.74 18.23C-42.86 9.77 -35.28 -0.37 -27.43 -1.42Z" fill="url(#stripe)"/><path d="M0 0L-27.36 -2.42C-34.99 -4.54 -41.08 -15.64 -36.81 -23.59L-26.79 -22.48L-29.62 -32.16C-22.54 -37.74 -10.55 -33.67 -7.13 -26.52Z" fill="url(#stripe)"/><path d="M0 0L-6.16 -26.77C-6.49 -34.68 2.18 -43.9 11.06 -42.3L13.1 -32.42L21.43 -38.11C28.93 -33.1 28.76 -20.44 23.02 -14.98Z" fill="url(#stripe)"/><line x1="0" y1="0" x2="20.44" y2="5.48" stroke="#E0404F" stroke-width="0.93"/><line x1="0" y1="0" x2="16.79" y2="12.88" stroke="#E0404F" stroke-width="0.93"/><line x1="0" y1="0" x2="10.58" y2="18.32" stroke="#E0404F" stroke-width="0.93"/><line x1="0" y1="0" x2="2.76" y2="20.98" stroke="#E0404F" stroke-width="0.93"/><line x1="0" y1="0" x2="-5.48" y2="20.44" stroke="#E0404F" stroke-width="0.93"/><line x1="0" y1="0" x2="-12.88" y2="16.79" stroke="#E0404F" stroke-width="0.93"/><line x1="0" y1="0" x2="-18.32" y2="10.58" stroke="#E0404F" stroke-width="0.93"/><line x1="0" y1="0" x2="-20.98" y2="2.76" stroke="#E0404F" stroke-width="0.93"/><line x1="0" y1="0" x2="-20.44" y2="-5.48" stroke="#E0404F" stroke-width="0.93"/><line x1="0" y1="0" x2="-16.79" y2="-12.88" stroke="#E0404F" stroke-width="0.93"/><line x1="0" y1="0" x2="-10.58" y2="-18.32" stroke="#E0404F" stroke-width="0.93"/><line x1="0" y1="0" x2="-2.76" y2="-20.98" stroke="#E0404F" stroke-width="0.93"/><line x1="0" y1="0" x2="5.48" y2="-20.44" stroke="#E0404F" stroke-width="0.93"/><line x1="0" y1="0" x2="12.88" y2="-16.79" stroke="#E0404F" stroke-width="0.93"/><line x1="0" y1="0" x2="18.32" y2="-10.58" stroke="#E0404F" stroke-width="0.93"/><line x1="0" y1="0" x2="20.98" y2="-2.76" stroke="#E0404F" stroke-width="0.93"/><circle cx="20.44" cy="5.48" r="2.33" fill="#fff" stroke="#E0404F" stroke-width="0.93"/><circle cx="16.79" cy="12.88" r="2.33" fill="#fff" stroke="#E0404F" stroke-width="0.93"/><circle cx="10.58" cy="18.32" r="2.33" fill="#fff" stroke="#E0404F" stroke-width="0.93"/><circle cx="2.76" cy="20.98" r="2.33" fill="#fff" stroke="#E0404F" stroke-width="0.93"/><circle cx="-5.48" cy="20.44" r="2.33" fill="#fff" stroke="#E0404F" stroke-width="0.93"/><circle cx="-12.88" cy="16.79" r="2.33" fill="#fff" stroke="#E0404F" stroke-width="0.93"/><circle cx="-18.32" cy="10.58" r="2.33" fill="#fff" stroke="#E0404F" stroke-width="0.93"/><circle cx="-20.98" cy="2.76" r="2.33" fill="#fff" stroke="#E0404F" stroke-width="0.93"/><circle cx="-20.44" cy="-5.48" r="2.33" fill="#fff" stroke="#E0404F" stroke-width="0.93"/><circle cx="-16.79" cy="-12.88" r="2.33" fill="#fff" stroke="#E0404F" stroke-width="0.93"/><circle cx="-10.58" cy="-18.32" r="2.33" fill="#fff" stroke="#E0404F" stroke-width="0.93"/><circle cx="-2.76" cy="-20.98" r="2.33" fill="#fff" stroke="#E0404F" stroke-width="0.93"/><circle cx="5.48" cy="-20.44" r="2.33" fill="#fff" stroke="#E0404F" stroke-width="0.93"/><circle cx="12.88" cy="-16.79" r="2.33" fill="#fff" stroke="#E0404F" stroke-width="0.93"/><circle cx="18.32" cy="-10.58" r="2.33" fill="#fff" stroke="#E0404F" stroke-width="0.93"/><circle cx="20.98" cy="-2.76" r="2.33" fill="#fff" stroke="#E0404F" stroke-width="0.93"/><circle r="4.42" fill="#fff" stroke="#E0404F" stroke-width="0.93"/></g><g transform="translate(565.6 889.8)"><path d="M0 0L-13.76 11.94C-18.29 14.61 -26.4 12.4 -28.22 6.7L-23.07 2.43L-29 -0.68C-28.4 -6.64 -20.93 -10.48 -15.94 -8.82Z" fill="url(#stripe)" stroke="#D9394A" stroke-width="0.8"/><path d="M0 0L-15.61 -9.4C-19.55 -12.88 -19.95 -21.28 -15.09 -24.77L-9.44 -21.19L-8.31 -27.79C-2.46 -29.06 3.5 -23.15 3.46 -17.89Z" fill="url(#stripe)" stroke="#D9394A" stroke-width="0.8"/><path d="M0 0L4.11 -17.75C6.21 -22.57 14.07 -25.55 18.89 -22.01L17.24 -15.52L23.86 -16.49C26.88 -11.32 23.1 -3.82 18.08 -2.24Z" fill="url(#stripe)" stroke="#D9394A" stroke-width="0.8"/><path d="M0 0L18.15 -1.57C23.39 -1.06 28.64 5.49 26.77 11.17L20.09 11.6L23.06 17.6C19.07 22.06 10.77 20.78 7.71 16.51Z" fill="url(#stripe)" stroke="#D9394A" stroke-width="0.8"/><path d="M0 0L7.11 16.78C8.24 21.91 3.63 28.94 -2.35 28.91L-4.82 22.69L-9.61 27.37C-15.09 24.96 -16.44 16.67 -13.32 12.44Z" fill="url(#stripe)" stroke="#D9394A" stroke-width="0.8"/><circle r="16.82" fill="url(#stripe)"/><path d="M0 0L-12.94 11.23C-17.2 13.73 -24.81 11.65 -26.53 6.3L-21.69 2.28L-27.26 -0.64C-26.7 -6.24 -19.67 -9.86 -14.99 -8.29Z" fill="url(#stripe)"/><path d="M0 0L-14.68 -8.83C-18.37 -12.11 -18.75 -20 -14.19 -23.28L-8.87 -19.92L-7.81 -26.12C-2.32 -27.32 3.29 -21.76 3.26 -16.82Z" fill="url(#stripe)"/><path d="M0 0L3.87 -16.69C5.84 -21.22 13.23 -24.01 17.76 -20.69L16.21 -14.59L22.43 -15.5C25.26 -10.64 21.71 -3.59 17 -2.1Z" fill="url(#stripe)"/><path d="M0 0L17.06 -1.48C21.98 -1 26.93 5.16 25.16 10.5L18.89 10.9L21.67 16.54C17.93 20.74 10.12 19.54 7.25 15.52Z" fill="url(#stripe)"/><path d="M0 0L6.68 15.77C7.74 20.6 3.41 27.2 -2.21 27.18L-4.53 21.33L-9.04 25.73C-14.18 23.46 -15.45 15.67 -12.52 11.69Z" fill="url(#stripe)"/><line x1="0" y1="0" x2="-13.14" y2="-1.15" stroke="#E0404F" stroke-width="0.7"/><line x1="0" y1="0" x2="-11.7" y2="-6.09" stroke="#E0404F" stroke-width="0.7"/><line x1="0" y1="0" x2="-8.48" y2="-10.11" stroke="#E0404F" stroke-width="0.7"/><line x1="0" y1="0" x2="-3.97" y2="-12.58" stroke="#E0404F" stroke-width="0.7"/><line x1="0" y1="0" x2="1.15" y2="-13.14" stroke="#E0404F" stroke-width="0.7"/><line x1="0" y1="0" x2="6.09" y2="-11.7" stroke="#E0404F" stroke-width="0.7"/><line x1="0" y1="0" x2="10.11" y2="-8.48" stroke="#E0404F" stroke-width="0.7"/><line x1="0" y1="0" x2="12.58" y2="-3.97" stroke="#E0404F" stroke-width="0.7"/><line x1="0" y1="0" x2="13.14" y2="1.15" stroke="#E0404F" stroke-width="0.7"/><line x1="0" y1="0" x2="11.7" y2="6.09" stroke="#E0404F" stroke-width="0.7"/><line x1="0" y1="0" x2="8.48" y2="10.11" stroke="#E0404F" stroke-width="0.7"/><line x1="0" y1="0" x2="3.97" y2="12.58" stroke="#E0404F" stroke-width="0.7"/><line x1="0" y1="0" x2="-1.15" y2="13.14" stroke="#E0404F" stroke-width="0.7"/><line x1="0" y1="0" x2="-6.09" y2="11.7" stroke="#E0404F" stroke-width="0.7"/><line x1="0" y1="0" x2="-10.11" y2="8.48" stroke="#E0404F" stroke-width="0.7"/><line x1="0" y1="0" x2="-12.58" y2="3.97" stroke="#E0404F" stroke-width="0.7"/><circle cx="-13.14" cy="-1.15" r="1.45" fill="#fff" stroke="#E0404F" stroke-width="0.7"/><circle cx="-11.7" cy="-6.09" r="1.45" fill="#fff" stroke="#E0404F" stroke-width="0.7"/><circle cx="-8.48" cy="-10.11" r="1.45" fill="#fff" stroke="#E0404F" stroke-width="0.7"/><circle cx="-3.97" cy="-12.58" r="1.45" fill="#fff" stroke="#E0404F" stroke-width="0.7"/><circle cx="1.15" cy="-13.14" r="1.45" fill="#fff" stroke="#E0404F" stroke-width="0.7"/><circle cx="6.09" cy="-11.7" r="1.45" fill="#fff" stroke="#E0404F" stroke-width="0.7"/><circle cx="10.11" cy="-8.48" r="1.45" fill="#fff" stroke="#E0404F" stroke-width="0.7"/><circle cx="12.58" cy="-3.97" r="1.45" fill="#fff" stroke="#E0404F" stroke-width="0.7"/><circle cx="13.14" cy="1.15" r="1.45" fill="#fff" stroke="#E0404F" stroke-width="0.7"/><circle cx="11.7" cy="6.09" r="1.45" fill="#fff" stroke="#E0404F" stroke-width="0.7"/><circle cx="8.48" cy="10.11" r="1.45" fill="#fff" stroke="#E0404F" stroke-width="0.7"/><circle cx="3.97" cy="12.58" r="1.45" fill="#fff" stroke="#E0404F" stroke-width="0.7"/><circle cx="-1.15" cy="13.14" r="1.45" fill="#fff" stroke="#E0404F" stroke-width="0.7"/><circle cx="-6.09" cy="11.7" r="1.45" fill="#fff" stroke="#E0404F" stroke-width="0.7"/><circle cx="-10.11" cy="8.48" r="1.45" fill="#fff" stroke="#E0404F" stroke-width="0.7"/><circle cx="-12.58" cy="3.97" r="1.45" fill="#fff" stroke="#E0404F" stroke-width="0.7"/><circle r="2.75" fill="#fff" stroke="#E0404F" stroke-width="0.7"/></g>
<!-- bars -->
<rect x="312.5" y="1064.2" width="1037.7" height="61.4" fill="#E3170F"/><rect x="313" y="1064.7" width="1036.7" height="60.4" fill="none" stroke="#C8120B" stroke-width="1" stroke-opacity="0.75"/><rect x="312.5" y="1132.1" width="29.5" height="61.2" fill="#EE757E"/><rect x="313" y="1132.6" width="28.5" height="60.2" fill="none" stroke="#DD6971" stroke-width="1" stroke-opacity="0.75"/><rect x="312.6" y="1200.3" width="3.5" height="61.2" fill="#F8C5C9"/><rect x="290.6" y="1424.8" width="1037.1" height="66.1" fill="#E3170F"/><rect x="291.1" y="1425.3" width="1036.1" height="65.1" fill="none" stroke="#C8120B" stroke-width="1" stroke-opacity="0.75"/><rect x="290.6" y="1498.2" width="639.5" height="66.3" fill="#EE757E"/><rect x="291.1" y="1498.7" width="638.5" height="65.3" fill="none" stroke="#DD6971" stroke-width="1" stroke-opacity="0.75"/><rect x="290.6" y="1572" width="258.6" height="65.9" fill="#F8C5C9"/><rect x="291.1" y="1572.5" width="257.6" height="64.9" fill="none" stroke="#EDB7BC" stroke-width="1" stroke-opacity="0.75"/>
<!-- texts -->
<text x="443.53" y="291.6" font-size="76.6" fill="#1b1b1b" textLength="132.86" lengthAdjust="spacing" stroke="#fff" stroke-width="4" stroke-linejoin="round">QUI</text>
<text font-size="76.6" fill="#1b1b1b" stroke="#fff" stroke-width="4" stroke-linejoin="round"><tspan x="592.41" y="291.6" textLength="174.94" lengthAdjust="spacingAndGlyphs">ÊTES</tspan><tspan x="756.84" y="286.3" textLength="51.38" lengthAdjust="spacingAndGlyphs">-</tspan><tspan x="796.96" y="291.6" textLength="206.18" lengthAdjust="spacingAndGlyphs">VOUS</tspan></text>
<text x="1013.64" y="291.6" font-size="76.6" fill="#1b1b1b" textLength="44.19" lengthAdjust="spacingAndGlyphs" stroke="#fff" stroke-width="4" stroke-linejoin="round">?</text>
<text x="477" y="386.6" font-size="12.1" fill="#222" textLength="542" lengthAdjust="spacingAndGlyphs">Résultats du sondage &quot;Les voyageurs français au Japon&quot; mené par le site GaijinJapan.org</text>
<text x="680.09" y="440.2" font-size="24.3" fill="#111" textLength="122.93" lengthAdjust="spacingAndGlyphs" stroke="#fff" stroke-width="0.4" stroke-linejoin="round">Vous êtes</text>
<text x="806.74" y="440.2" font-size="24.3" fill="#111" textLength="15.47" lengthAdjust="spacingAndGlyphs" stroke="#fff" stroke-width="0.4" stroke-linejoin="round">?</text>
<text x="141.32" y="1023.4" font-size="23.8" fill="#111" textLength="776.92" lengthAdjust="spacingAndGlyphs" stroke="#fff" stroke-width="0.4" stroke-linejoin="round">Recommanderiez-vous le Japon comme destination de voyage</text>
<text x="922.11" y="1023.4" font-size="23.8" fill="#111" textLength="16.04" lengthAdjust="spacingAndGlyphs" stroke="#fff" stroke-width="0.4" stroke-linejoin="round">?</text>
<text x="142.54" y="1384.2" font-size="23.8" fill="#111" textLength="357.53" lengthAdjust="spacingAndGlyphs" stroke="#fff" stroke-width="0.4" stroke-linejoin="round">Aimeriez-vous vivre au Japon</text>
<text x="504.82" y="1384.2" font-size="23.8" fill="#111" textLength="15.01" lengthAdjust="spacingAndGlyphs" stroke="#fff" stroke-width="0.4" stroke-linejoin="round">?</text>
<text x="602.03" y="693.6" font-size="26.2" fill="#fff" textLength="98.34" lengthAdjust="spacingAndGlyphs" stroke="#EE757E" stroke-width="0.2" stroke-linejoin="round">Homme</text>
<text x="607.37" y="723.8" font-size="26.2" fill="#fff" textLength="87.27" lengthAdjust="spacingAndGlyphs" stroke="#EE757E" stroke-width="0.2" stroke-linejoin="round">46,51 %</text>
<text x="810.01" y="693.6" font-size="26.2" fill="#fff" textLength="91.64" lengthAdjust="spacingAndGlyphs" stroke="#E3170F" stroke-width="0.2" stroke-linejoin="round">Femme</text>
<text x="808.42" y="723.8" font-size="26.2" fill="#fff" textLength="94.66" lengthAdjust="spacingAndGlyphs" stroke="#E3170F" stroke-width="0.2" stroke-linejoin="round">53,49 %</text>
<text x="268.8" y="1099.1" font-size="20.1" fill="#151515" textLength="35.15" lengthAdjust="spacingAndGlyphs" stroke="#fff" stroke-width="0.3" stroke-linejoin="round">Oui</text>
<text x="210.43" y="1170.8" font-size="20.1" fill="#151515" textLength="94.34" lengthAdjust="spacingAndGlyphs" stroke="#fff" stroke-width="0.3" stroke-linejoin="round">Peut être</text>
<text x="262.75" y="1242.8" font-size="20.1" fill="#151515" textLength="41.25" lengthAdjust="spacingAndGlyphs" stroke="#fff" stroke-width="0.3" stroke-linejoin="round">Non</text>
<text x="1256.45" y="1099.2" font-size="21.2" fill="#fff" textLength="79.76" lengthAdjust="spacingAndGlyphs" stroke="#E3170F" stroke-width="0.6" stroke-linejoin="round">96,89 %</text>
<text x="356.95" y="1171.1" font-size="21.2" fill="#1d1d1d" textLength="62.74" lengthAdjust="spacingAndGlyphs" stroke="#fff" stroke-width="0.35" stroke-linejoin="round">2,76 %</text>
<text x="327.82" y="1243.1" font-size="21.2" fill="#1d1d1d" textLength="64.41" lengthAdjust="spacingAndGlyphs" stroke="#fff" stroke-width="0.35" stroke-linejoin="round">0,35 %</text>
<text x="245.56" y="1467.9" font-size="20.1" fill="#151515" textLength="35.71" lengthAdjust="spacingAndGlyphs" stroke="#fff" stroke-width="0.3" stroke-linejoin="round">Oui</text>
<text x="187.26" y="1540.1" font-size="20.1" fill="#151515" textLength="94.16" lengthAdjust="spacingAndGlyphs" stroke="#fff" stroke-width="0.3" stroke-linejoin="round">Peut être</text>
<text x="239.54" y="1611.6" font-size="20.1" fill="#151515" textLength="41.34" lengthAdjust="spacingAndGlyphs" stroke="#fff" stroke-width="0.3" stroke-linejoin="round">Non</text>
<text x="1237.01" y="1467.5" font-size="21.2" fill="#fff" textLength="77.73" lengthAdjust="spacingAndGlyphs" stroke="#E3170F" stroke-width="0.6" stroke-linejoin="round">53,58 %</text>
<text x="833.89" y="1539.9" font-size="21.2" fill="#fff" textLength="78.6" lengthAdjust="spacingAndGlyphs" stroke="#EE757E" stroke-width="0.6" stroke-linejoin="round">33,05 %</text>
<text x="464.33" y="1611.7" font-size="21.2" fill="#2a1d1f" textLength="70.07" lengthAdjust="spacingAndGlyphs" stroke="#F8C5C9" stroke-width="0.6" stroke-linejoin="round">13,37 %</text>
<rect x="600" y="211" width="34" height="26.2" fill="#fff"/><text x="601.7" y="248.4" font-size="43" textLength="27.8" lengthAdjust="spacingAndGlyphs" fill="#1b1b1b" stroke="#fff" stroke-width="1.7" aria-hidden="true">^</text>
<rect x="680.6" y="444.3" width="121.4" height="1.5" fill="#1b1b1b"/><rect x="142.8" y="1026.6" width="774" height="1.6" fill="#1b1b1b"/><rect x="142.6" y="1387.8" width="356.2" height="1.6" fill="#1b1b1b"/>
</svg>
</body>
</html>
